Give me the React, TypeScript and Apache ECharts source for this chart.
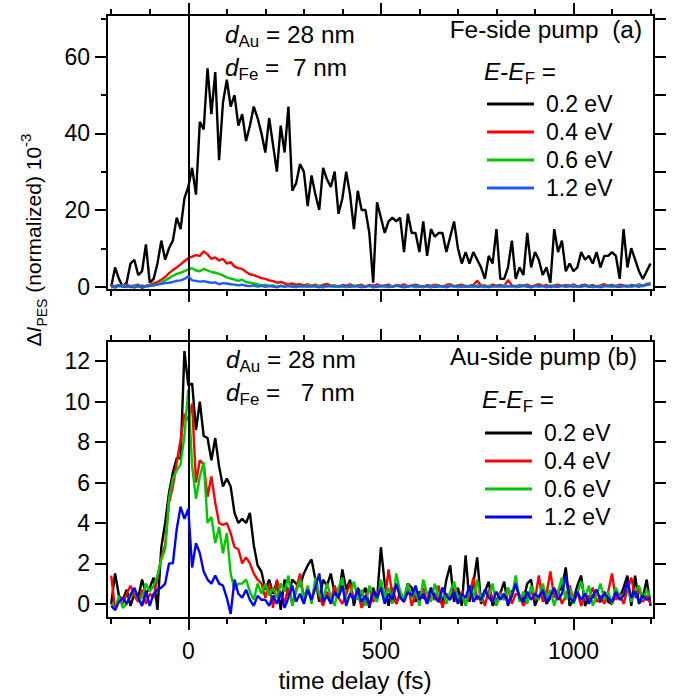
import React, { useEffect, useRef } from "react";
import * as echarts from "echarts";

const FONT = "'Liberation Sans', Arial, Helvetica, sans-serif";

// time grid: first delay and step (fs)
const T_START = -200;
const T_STEP = 10;
const X_MIN = -211;
const X_MAX = 1209;

const ENERGY_LABELS = ["0.2 eV", "0.4 eV", "0.6 eV", "1.2 eV"];
const X_MAJOR_TICKS = [0, 500, 1000];
const X_MINOR_TICKS = [-200, -100, 100, 200, 300, 400, 600, 700, 800, 900, 1100, 1200];
const FE_Y_LABEL_TICKS = [0, 20, 40, 60];
const FE_Y_MINOR_TICKS = [10, 30, 50, 70];
const FE_Y_RIGHT_TICKS = [0, 10, 20, 30, 40, 50, 60, 70];
const AU_Y_TICKS = [0, 2, 4, 6, 8, 10, 12];

const FE_COLORS = ["#000000", "#ff0000", "#00c800", "#1f5aff"];
const AU_COLORS = ["#000000", "#ff0000", "#00c800", "#0000ff"];

// (a) Fe-side pump, rows of 10 points starting at -200, -100, 0, ... 1100, then 1200
const FE_02 = [
  0, 5, 2, 0, 1, 6, 7, 3, 4, 11,
  1, 2, 6, 12, 7, 10, 12, 18, 15, 23,
  26, 31, 24, 43, 41, 57, 45, 56, 33, 48,
  54, 47, 50, 42, 45, 38, 42, 47, 44, 40,
  35, 44, 37, 30, 42, 35, 47, 25, 27, 32,
  30, 21, 29, 24, 20, 31, 28, 26, 30, 19,
  23, 30, 24, 15, 25, 20, 20, 14, 1, 22,
  18, 14, 17, 18, 17, 18, 9, 19, 14, 14,
  9, 17, 8, 15, 13, 14, 14, 9, 13, 17,
  10, 6, 9, 6, 9, 7, 5, 2, 8, 6,
  15, 2, 2, 5, 12, 2, 5, 3, 14, 5,
  9, 7, 3, 5, 1, 15, 9, 12, 4, 6,
  4, 5, 9, 7, 8, 6, 9, 5, 8, 8,
  9, 8, 2, 15, 5, 10, 7, 4, 2, 4,
  6,
];
const FE_04 = [
  0.5, -0.3, 0.4, 0.0, 0.6, -0.2, 0.3, 0.5, -0.4, 0.2,
  0.4, 0.8, 1.2, 1.8, 2.5, 3.5, 4.3, 5.0, 5.8, 6.6,
  7.4, 7.8, 8.2, 8.0, 9.2, 8.4, 7.2, 7.6, 6.8, 7.2,
  6.0, 6.4, 5.2, 4.8, 4.6, 3.8, 3.2, 3.0, 2.6, 2.2,
  2.0, 1.6, 1.4, 1.0, 1.2, 0.8, 0.6, 0.8, 0.5, 0.6,
  0.3, 0.6, 0.2, 0.5, 0.1, 0.4, 0.7, 0.2, 0.3, -0.1,
  0.4, 0.2, 0.6, 0.1, 0.3, 0.5, -0.2, 0.4, 0.2, 0.6,
  0.1, 0.3, 0.5, -0.1, 0.4, 0.2, 0.6, 0.0, 0.3, 0.5,
  0.2, -0.2, 0.4, 0.1, 0.5, 0.3, 0.0, 0.4, 0.6, 0.1,
  0.3, 0.5, -0.1, 0.2, 0.4, 1.5, 0.2, 0.3, 0.0, 0.5,
  0.2, 0.4, 0.1, 1.7, 0.3, -0.1, 0.4, 0.2, 0.5, 0.0,
  0.3, 0.6, 0.1, 0.4, -0.2, 0.3, 0.5, 0.1, 0.4, 0.2,
  0.6, 0.0, 0.3, 0.5, 0.1, 0.4, -0.1, 0.3, 0.6, 0.2,
  0.4, 0.1, 0.5, 0.3, 0.0, 0.4, 0.2, 0.6, 0.1, 0.7,
  0.9,
];
const FE_06 = [
  -0.3, 0.2, 0.0, 0.4, -0.2, 0.1, 0.3, -0.1, 0.2, 0.0,
  0.3, 0.3, 0.6, 1.0, 1.6, 2.2, 2.8, 3.3, 3.6, 4.0,
  4.4, 4.8, 4.2, 4.0, 4.6, 4.2, 3.8, 3.6, 3.3, 2.9,
  2.4, 2.1, 1.8, 1.5, 1.8, 1.2, 1.0, 0.8, 0.6, 0.3,
  0.5, 0.2, 0.3, 0.0, 0.2, -0.1, 0.3, 0.1, -0.2, 0.2,
  0.0, 0.3, -0.1, 0.2, 0.1, -0.3, 0.2, 0.0, 0.3, -0.1,
  0.1, -0.2, 0.2, 0.0, 0.3, -0.1, 0.1, 0.2, -0.3, 0.1,
  0.0, 0.2, -0.2, 0.1, 0.3, 0.0, -0.1, 0.2, 0.1, -0.2,
  0.2, 0.0, 0.1, -0.3, 0.2, 0.1, 0.0, -0.1, 0.3, 0.1,
  -0.2, 0.1, 0.2, 0.0, -0.1, 0.3, 0.1, -0.2, 0.2, 0.0,
  0.1, -0.1, 0.3, 0.0, 0.2, -0.2, 0.1, 0.4, 0.0, -0.1,
  0.2, 0.0, 0.1, -0.2, 0.3, 0.1, 0.0, 0.2, -0.1, 0.1,
  0.3, -0.1, 0.0, 0.2, 0.1, -0.2, 0.2, 0.0, 0.1, 0.3,
  -0.1, 0.2, 0.0, 0.1, 0.3, -0.1, 0.2, 0.4, 0.1, 0.5,
  0.8,
];
const FE_12 = [
  -0.2, 0.1, 0.3, -0.1, 0.0, 0.2, -0.3, 0.1, 0.2, 0.0,
  0.1, 0.3, 0.5, 0.7, 0.9, 1.0, 1.2, 1.5, 1.6, 2.0,
  2.7, 1.6, 1.5, 1.3, 1.4, 1.2, 1.0, 1.1, 0.6, 0.9,
  0.8, 0.6, 0.5, 0.3, 0.5, 0.2, 0.1, 0.3, 0.0, 0.2,
  -0.1, 0.1, 0.0, -0.2, 0.2, 0.0, 0.1, -0.1, 0.2, 0.0,
  0.1, -0.1, 0.2, 0.0, -0.2, 0.1, 0.0, 0.2, -0.1, 0.1,
  0.0, 0.2, -0.1, 0.1, 0.0, -0.2, 0.1, 0.2, 0.0, -0.1,
  0.2, 0.0, 0.1, -0.1, 0.2, 0.1, -0.2, 0.0, 0.1, 0.2,
  -0.1, 0.1, 0.0, 0.2, -0.1, 0.0, 0.1, -0.2, 0.1, 0.0,
  0.2, -0.1, 0.1, 0.0, 0.2, -0.1, 0.0, 0.1, -0.2, 0.1,
  0.0, 0.2, -0.1, 0.1, 0.0, 0.2, -0.1, 0.1, 0.0, -0.2,
  0.1, 0.0, 0.2, -0.1, 0.1, 0.0, -0.1, 0.2, 0.0, 0.1,
  -0.1, 0.1, 0.0, 0.2, -0.1, 0.1, 0.0, -0.2, 0.1, 0.0,
  0.2, 0.0, -0.1, 0.1, 0.0, 0.2, 0.1, -0.1, 0.3, 0.4,
  0.6,
];

// (b) Au-side pump
const AU_02 = [
  0.0, 1.5, 0.4, 0.2, 0.7, -0.1, 0.5, 0.3, 1.2, 0.5,
  0.8, 1.3, -0.3, 2.8, 4.0, 5.5, 6.5, 7.2, 7.2, 12.5,
  10.8, 10.9, 8.6, 10.0, 8.3, 8.2, 7.1, 8.2, 6.8, 5.8,
  6.2, 5.8, 4.5, 4.0, 4.2, 4.0, 4.5, 2.9, 1.9, 1.6,
  0.7, 1.2, 0.5, 1.1, -0.3, 1.2, 0.4, 1.2, 1.0, 0.9,
  1.5, 1.9, 2.2, 1.2, 0.1, 1.2, 0.9, 1.5, 0.5, 0.3,
  1.7, 0.7, 1.2, -0.1, 0.8, 0.4, 0.8, -0.2, 0.8, 0.2,
  2.8, 1.0, -0.1, 0.8, 0.0, 0.5, 0.2, 1.0, 0.8, 0.1,
  0.6, 0.3, 0.2, 0.8, 0.4, 0.2, 0.0, 1.2, 1.9, 0.1,
  0.8, -0.1, 2.4, 0.1, 1.0, 2.3, 0.0, 0.6, 1.1, -0.1,
  0.2, 0.5, 1.1, -0.1, 0.6, 0.9, 0.4, 0.2, 1.0, 1.2,
  -0.1, 0.4, 0.6, 0.0, 0.3, 0.5, 0.6, 0.8, 1.8, -0.1,
  0.2, 0.9, 1.4, -0.1, 0.3, 0.4, 0.2, 0.1, 0.6, 0.1,
  0.0, 0.5, 0.3, 0.8, 1.4, -0.1, 1.4, 0.0, 0.3, 1.2,
  -0.1,
];
const AU_04 = [
  1.4, -0.3, 0.2, 0.0, 0.5, 0.9, 0.4, 0.1, 0.7, 0.0,
  0.5, 0.3, 1.3, 2.3, 2.9, 5.0, 5.8, 7.0, 8.1, 9.4,
  9.1, 9.9, 6.0, 7.1, 6.9, 5.3, 6.3, 5.0, 4.0, 3.9,
  4.0, 3.5, 2.8, 2.7, 2.0, 2.3, 2.0, 1.5, 1.2, 1.0,
  0.3, 1.0, -0.2, 1.2, 0.4, 0.1, 0.8, 0.0, 0.7, 1.5,
  0.3, 0.8, 0.2, 1.0, 0.4, -0.1, 0.6, 0.1, 0.9, 0.3,
  0.0, 0.5, 1.0, 0.2, 0.6, -0.2, 0.3, 0.8, 0.1, 0.4,
  0.9, 0.2, 1.7, 0.4, 0.0, 0.6, 0.2, 1.0, -0.1, 0.5,
  0.3, 0.8, 0.0, 0.4, 0.2, 0.9, -0.2, 0.5, 0.3, 0.7,
  0.1, 0.6, 0.0, 0.4, 1.3, 0.2, 0.5, -0.1, 0.7, 0.3,
  0.1, 0.6, 0.2, 0.8, 0.0, 0.5, 0.4, -0.1, 0.3, 0.6,
  0.2, 1.4, 0.1, 0.5, 1.6, 0.3, 0.7, 0.0, 0.4, 0.9,
  0.2, 0.6, -0.1, 0.5, 0.3, 0.8, 0.1, 0.4, 0.0, 0.6,
  1.5, 0.2, 0.5, 0.0, 0.7, 1.3, 0.3, 0.8, 0.1, 0.4,
  0.0,
];
const AU_06 = [
  0.0, -0.3, 0.4, -0.2, 0.0, 0.5, 0.7, 0.2, 0.3, 1.0,
  0.6, 0.9, 1.4, 2.2, 2.7, 5.2, 6.2, 6.6, 6.9, 8.3,
  10.6, 6.8, 5.2, 6.3, 7.0, 4.0, 4.3, 3.0, 3.8, 2.5,
  3.5, 1.5, 0.7, 1.0, 1.0, 1.2, 0.6, 0.2, 1.0, 0.5,
  1.0, 0.4, 0.8, 0.3, 1.0, 0.6, 1.4, -0.1, 0.6, 1.2,
  0.2, 0.9, 0.0, 1.3, 0.5, 0.2, 1.0, 0.4, -0.1, 0.8,
  1.3, 0.1, 0.5, 1.1, 0.2, 0.7, -0.1, 0.9, 0.4, 0.1,
  1.2, 0.3, 0.8, 0.0, 1.5, 0.6, 0.2, 1.0, 0.3, 0.7,
  -0.1, 1.2, 0.5, 0.1, 1.0, 0.3, 0.8, 0.0, 0.6, 1.1,
  0.2, 0.5, -0.1, 0.9, 0.3, 1.2, 0.1, 0.6, 0.4, 1.0,
  -0.1, 0.5, 0.2, 0.8, 0.3, 1.4, 0.1, 0.6, 0.0, 0.9,
  0.4, 0.2, 1.0, 0.3, 0.7, -0.1, 0.6, 1.3, 0.2, 0.8,
  0.0, 0.5, 1.1, 0.3, 0.9, -0.1, 0.4, 1.0, 0.2, 0.6,
  0.0, 0.8, 0.3, 0.5, 1.0, 0.1, 0.6, 0.9, 0.2, 0.7,
  0.3,
];
const AU_12 = [
  -0.1, -0.3, 0.1, 0.3, 0.0, 0.4, 0.8, 0.3, -0.1, 0.6,
  -0.1, 0.5, 0.7, 0.8, 1.0, 2.0, 2.0, 3.7, 4.8, 4.2,
  4.7, 1.8, 3.0, 2.5, 1.6, 1.2, 1.0, 1.4, 1.0, 0.9,
  0.3, -0.5, 1.2, 0.5, 0.3, 0.7, 0.2, -0.1, 0.4, 0.2,
  0.2, -0.1, 0.4, 0.0, 0.6, -0.2, 0.3, 0.9, 0.1, 0.5,
  0.0, 0.7, 0.2, 0.8, 1.5, 0.1, 0.4, 0.0, 0.6, 0.3,
  0.9, -0.1, 0.5, 0.2, 0.7, 0.1, 0.4, -0.1, 0.6, 0.3,
  0.8, 0.0, 0.5, 0.2, 1.0, 0.3, 0.1, 0.6, 0.4, 0.9,
  0.2, 0.5, 0.0, 0.7, 0.3, 0.1, 0.8, 0.4, 0.2, 0.6,
  0.0, 0.5, 0.3, 0.9, 0.1, 0.4, 0.2, 0.7, 0.3, 0.1,
  0.6, 0.2, 0.5, 0.0, 0.4, 1.0, 0.3, 0.1, 0.6, 0.2,
  0.5, 0.3, 0.7, 0.1, 0.4, 0.8, 0.2, 0.5, 1.4, 0.3,
  0.1, 0.6, 0.2, 0.5, 0.0, 0.4, 0.7, 0.2, 0.5, 0.3,
  0.1, 0.6, 0.2, 0.4, 1.1, 0.3, 0.6, 0.1, 0.4, 0.2,
  0.3,
];

const FE_SERIES = [FE_02, FE_04, FE_06, FE_12];
const AU_SERIES = [AU_02, AU_04, AU_06, AU_12];

const toPairs = (vals: number[]) => vals.map((v, i) => [T_START + i * T_STEP, v]);

const TICK_STYLE = { color: "#000", width: 2 };
const LABEL_STYLE = { color: "#000", fontSize: 23, fontFamily: FONT };
const NO_LINE = { show: false, onZero: false };
const TEXT_SCALE_X = 1.06;

function xAxesFor(gridIndex: number, showLabels: boolean) {
  const base = {
    gridIndex,
    type: "value",
    min: X_MIN,
    max: X_MAX,
    axisLine: NO_LINE,
    splitLine: { show: false },
  };
  return [
    { ...base, position: "bottom", axisTick: { show: true, length: 6, customValues: X_MINOR_TICKS, lineStyle: TICK_STYLE }, axisLabel: { show: false } },
    {
      ...base,
      position: "bottom",
      axisTick: { show: true, length: 12, customValues: X_MAJOR_TICKS, lineStyle: TICK_STYLE },
      axisLabel: showLabels
        ? { show: true, customValues: X_MAJOR_TICKS, margin: 21, formatter: (v: number) => String(v), ...LABEL_STYLE }
        : { show: false },
    },
    { ...base, position: "top", axisTick: { show: true, length: 6, customValues: X_MINOR_TICKS, lineStyle: TICK_STYLE }, axisLabel: { show: false } },
    { ...base, position: "top", axisTick: { show: true, length: 12, customValues: X_MAJOR_TICKS, lineStyle: TICK_STYLE }, axisLabel: { show: false } },
  ];
}

function yAxis(gridIndex: number, min: number, max: number, position: string, ticks: number[], len: number, labels: number[] | null) {
  return {
    gridIndex,
    type: "value",
    min,
    max,
    position,
    axisLine: NO_LINE,
    splitLine: { show: false },
    axisTick: { show: true, length: len, customValues: ticks, lineStyle: TICK_STYLE },
    axisLabel: labels
      ? { show: true, customValues: labels, margin: 17, formatter: (v: number) => String(v), ...LABEL_STYLE }
      : { show: false },
  };
}

function seriesFor(vals: number[][], colors: string[], xi: number, yi: number) {
  return vals.map((v, k) => ({
    type: "line",
    name: ENERGY_LABELS[k],
    xAxisIndex: xi,
    yAxisIndex: yi,
    data: toPairs(v),
    showSymbol: false,
    symbol: "none",
    color: colors[k],
    itemStyle: { color: colors[k] },
    lineStyle: { color: colors[k], width: 2.4 },
    silent: true,
    z: 2 + k,
    markLine:
      k === 0
        ? {
            silent: true,
            symbol: ["none", "none"],
            label: { show: false },
            lineStyle: { color: "#000", width: 2, type: "solid" },
            data: [{ xAxis: 0 }],
          }
        : undefined,
  }));
}

function legendFor(left: number, top: number, colors: string[]) {
  return {
    orient: "vertical",
    left,
    top,
    padding: 0,
    itemWidth: 47,
    itemHeight: 3,
    itemGap: 4,
    icon: "rect",
    selectedMode: false,
    textStyle: { ...LABEL_STYLE, lineHeight: 24, padding: [0, 0, 0, 7] },
    data: ENERGY_LABELS.map((n, k) => ({ name: n, icon: "rect", itemStyle: { color: colors[k] } })),
  };
}

const RICH = {
  m: { fontSize: 23, fontFamily: FONT, fill: "#000", lineHeight: 23, verticalAlign: "top" },
  i: { fontSize: 23, fontFamily: FONT, fontStyle: "italic", fill: "#000", lineHeight: 23, verticalAlign: "top" },
  s: { fontSize: 16, fontFamily: FONT, fill: "#000", lineHeight: 35, verticalAlign: "middle" },
};

function richText(x: number, y: number, text: string) {
  return {
    type: "text",
    x,
    y,
    scaleX: TEXT_SCALE_X,
    silent: true,
    style: { text, rich: RICH, align: "left", verticalAlign: "top", fill: "#000" },
  };
}
function plainText(x: number, y: number, text: string, align = "right") {
  return {
    type: "text",
    x,
    y,
    scaleX: TEXT_SCALE_X,
    silent: true,
    style: { text, fontSize: 23, fontFamily: FONT, fill: "#000", align, verticalAlign: "middle" },
  };
}

export default function App() {
  const ref = useRef<HTMLDivElement>(null);
  useEffect(() => {
    if (!ref.current) return;
    const chart = echarts.init(ref.current, null, { renderer: "svg" });
    const option: any = {
      animation: false,
      backgroundColor: "#fff",
      grid: [
        { left: 107, top: 15, width: 547, height: 275, show: true, borderColor: "#000", borderWidth: 2, backgroundColor: "transparent" },
        { left: 107, top: 341, width: 547, height: 277, show: true, borderColor: "#000", borderWidth: 2, backgroundColor: "transparent" },
      ],
      xAxis: [...xAxesFor(0, false), ...xAxesFor(1, true)],
      yAxis: [
        yAxis(0, -0.9, 70.9, "left", FE_Y_MINOR_TICKS, 6, null),
        yAxis(0, -0.9, 70.9, "left", FE_Y_LABEL_TICKS, 12, FE_Y_LABEL_TICKS),
        yAxis(0, -0.9, 70.9, "right", FE_Y_RIGHT_TICKS, 12, null),
        yAxis(1, -0.7, 13.0, "left", AU_Y_TICKS, 12, AU_Y_TICKS),
        yAxis(1, -0.7, 13.0, "right", AU_Y_TICKS, 12, null),
      ],
      legend: [legendFor(487, 92, FE_COLORS), legendFor(485, 421, AU_COLORS)],
      series: [...seriesFor(FE_SERIES, FE_COLORS, 0, 0), ...seriesFor(AU_SERIES, AU_COLORS, 4, 3)],
      graphic: [
        richText(225, 23.7, "{i|d}{s|Au}{m| = 28 nm}"),
        richText(225, 57, "{i|d}{s|Fe}{m| =  7 nm}"),
        plainText(642, 30.5, "Fe-side pump  (a)"),
        richText(484, 61, "{i|E}{m|-}{i|E}{s|F}{m| =}"),
        richText(226, 348.5, "{i|d}{s|Au}{m| = 28 nm}"),
        richText(226, 381.8, "{i|d}{s|Fe}{m| =   7 nm}"),
        plainText(637, 357.5, "Au-side pump (b)"),
        richText(482, 389, "{i|E}{m|-}{i|E}{s|F}{m| =}"),
        plainText(355, 681, "time delay (fs)", "center"),
        {
          type: "text",
          x: 33,
          y: 240,
          rotation: Math.PI / 2,
          silent: true,
          style: {
            text: "{m|Δ}{i|I}{s|PES}{m| (normalized) 10}{p|-3}",
            align: "center",
            verticalAlign: "middle",
            fill: "#000",
            rich: {
              m: { fontSize: 21, fontFamily: FONT, fill: "#000", lineHeight: 31, verticalAlign: "middle" },
              i: { fontSize: 21, fontFamily: FONT, fontStyle: "italic", fill: "#000", lineHeight: 31, verticalAlign: "middle" },
              s: { fontSize: 14, fontFamily: FONT, fill: "#000", lineHeight: 17, verticalAlign: "bottom" },
              p: { fontSize: 15, fontFamily: FONT, fill: "#000", lineHeight: 17, verticalAlign: "top" },
            },
          },
        },
      ],
    };
    chart.setOption(option);
    return () => chart.dispose();
  }, []);
  return <div ref={ref} style={{ position: "fixed", left: 0, top: 0, width: 674, height: 698 }} />;
}
